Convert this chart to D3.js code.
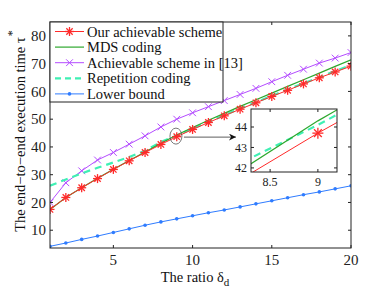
<!DOCTYPE html>
<html>
<head>
<style>
  body { margin: 0; background: white; }
  svg { font-family: "Liberation Serif", "Times New Roman", serif; }
</style>
<script src="https://cdn.jsdelivr.net/npm/d3@7"></script>
</head>
<body>
<svg id="chart" width="388" height="291"></svg>
<script>
// data
let ratio = d3.range(1, 21)
let ours = [17.5, 21.8, 25.3, 28.6, 31.9, 35.0, 38.0, 40.9, 43.7, 46.3, 48.8, 51.2, 53.6, 55.9, 58.2, 60.4, 62.7, 64.9, 67.0, 69.1]
let mds = [17.5, 21.8, 25.3, 28.7, 32.0, 35.1, 38.2, 41.3, 44.3, 47.0, 49.6, 52.1, 54.6, 57.0, 59.4, 61.8, 64.2, 66.6, 69.0, 71.4]
let ref13 = [20.0, 27.1, 31.4, 35.3, 38.0, 41.0, 44.0, 47.2, 50.0, 52.3, 54.5, 56.7, 58.9, 61.1, 63.5, 65.8, 68.0, 70.2, 72.0, 74.0]
let repetition = [26.0, 28.3, 30.5, 32.5, 34.4, 36.4, 38.6, 41.8, 44.1, 46.6, 49.0, 51.4, 53.8, 56.1, 58.4, 60.7, 62.9, 65.1, 67.3, 69.5]
let lower = [4.2, 5.4, 6.7, 7.9, 9.2, 10.5, 11.8, 13.0, 14.1, 15.2, 16.3, 17.3, 18.4, 19.5, 20.6, 21.7, 22.8, 23.8, 24.9, 26.0]
let xTicks = [5, 10, 15, 20]
let yTicks = [10, 20, 30, 40, 50, 60, 70, 80]
let insetXTicks = [8.5, 9]
let insetYTicks = [42, 43, 44]
let legendLabels = ["Our achievable scheme", "MDS coding", "Achievable scheme in [13]", "Repetition coding", "Lower bound"]

let series = [
  {name: legendLabels[0], values: ours, color: "#ff2a2a", marker: "star", dash: null, w: 1},
  {name: legendLabels[1], values: mds, color: "#2ea82e", marker: null, dash: null, w: 1.2},
  {name: legendLabels[2], values: ref13, color: "#b44cff", marker: "x", dash: null, w: 1},
  {name: legendLabels[3], values: repetition, color: "#3ff0b4", marker: null, dash: "7,5", w: 2.2},
  {name: legendLabels[4], values: lower, color: "#2f7cff", marker: "dot", dash: null, w: 1}
]
// drawing order: lower bound, ref13, repetition, mds, ours on top
let drawOrder = [4, 2, 3, 1, 0]

let svg = d3.select("#chart")
let mLeft = 50, mRight = 351, mTop = 22, mBottom = 248

let x = d3.scaleLinear().domain([1, 20]).range([mLeft, mRight])
let y = d3.scaleLinear().domain([3.6, 85]).range([mBottom, mTop])

function drawMarker(g, type, px, py, color, size) {
  if (type == "star") {
    let r = size
    for (let a of [0, 45, 90, 135]) {
      let t = a * Math.PI / 180
      g.append("line")
        .attr("x1", px - r * Math.cos(t)).attr("y1", py - r * Math.sin(t))
        .attr("x2", px + r * Math.cos(t)).attr("y2", py + r * Math.sin(t))
        .attr("stroke", color).attr("stroke-width", 1.3)
    }
  } else if (type == "x") {
    let r = size * 0.75
    g.append("path")
      .attr("d", `M${px - r},${py - r}L${px + r},${py + r}M${px - r},${py + r}L${px + r},${py - r}`)
      .attr("stroke", color).attr("stroke-width", 1)
  } else if (type == "dot") {
    g.append("circle").attr("cx", px).attr("cy", py).attr("r", 1.8).attr("fill", color)
  }
}

// axes box with inward ticks
function box(g, xs, ys, xt, yt, tl, fs, fmt) {
  let [x0, x1] = xs.range(), [y0, y1] = ys.range()
  g.append("rect").attr("x", x0).attr("y", y1).attr("width", x1 - x0).attr("height", y0 - y1)
    .attr("fill", "none").attr("stroke", "#222").attr("stroke-width", 1)
  for (let t of xt) {
    g.append("line").attr("x1", xs(t)).attr("x2", xs(t)).attr("y1", y0).attr("y2", y0 - tl).attr("stroke", "#222")
    g.append("line").attr("x1", xs(t)).attr("x2", xs(t)).attr("y1", y1).attr("y2", y1 + tl).attr("stroke", "#222")
    g.append("text").attr("x", xs(t)).attr("y", y0 + fs + 2).attr("text-anchor", "middle")
      .attr("font-size", fs).attr("fill", "#222").text(fmt(t))
  }
  for (let t of yt) {
    g.append("line").attr("x1", x0).attr("x2", x0 + tl).attr("y1", ys(t)).attr("y2", ys(t)).attr("stroke", "#222")
    g.append("line").attr("x1", x1).attr("x2", x1 - tl).attr("y1", ys(t)).attr("y2", ys(t)).attr("stroke", "#222")
    g.append("text").attr("x", x0 - 4).attr("y", ys(t) + fs * 0.35).attr("text-anchor", "end")
      .attr("font-size", fs).attr("fill", "#222").text(fmt(t))
  }
}

let main = svg.append("g")
svg.append("defs").append("clipPath").attr("id", "clipMain")
  .append("rect").attr("x", mLeft).attr("y", mTop).attr("width", mRight - mLeft).attr("height", mBottom - mTop)

let plotG = main.append("g").attr("clip-path", "url(#clipMain)")
for (let i of drawOrder) {
  let s = series[i]
  let line = d3.line().x((d, k) => x(ratio[k])).y(d => y(d))
  plotG.append("path").attr("d", line(s.values)).attr("fill", "none")
    .attr("stroke", s.color).attr("stroke-width", s.w)
    .attr("stroke-dasharray", s.dash)
  if (s.marker) {
    s.values.forEach((v, k) => drawMarker(plotG, s.marker, x(ratio[k]), y(v), s.color, 4.5))
  }
}

box(main, x, y, xTicks, yTicks, 3, 15, d => d)

// ellipse around the zoomed spot and arrow
let ex = 8.95, ey = 43.9
main.append("ellipse").attr("cx", x(ex)).attr("cy", y(ey)).attr("rx", 6).attr("ry", 8)
  .attr("fill", "none").attr("stroke", "#555").attr("stroke-width", 0.8)
svg.append("defs").append("marker").attr("id", "arrowHead")
  .attr("viewBox", "0 0 10 10").attr("refX", 10).attr("refY", 5)
  .attr("markerWidth", 9).attr("markerHeight", 7).attr("markerUnits", "userSpaceOnUse")
  .attr("orient", "auto")
  .append("path").attr("d", "M0,0L10,5L0,10L3,5Z").attr("fill", "#111")
main.append("line").attr("x1", x(ex) + 8).attr("x2", 236).attr("y1", y(ey) + 1).attr("y2", y(ey) + 1)
  .attr("stroke", "#333").attr("stroke-width", 0.8).attr("marker-end", "url(#arrowHead)")

// legend
let lg = main.append("g")
lg.append("rect").attr("x", mLeft).attr("y", mTop).attr("width", 173).attr("height", 80)
  .attr("fill", "white").attr("stroke", "#222").attr("stroke-width", 1)
series.forEach((s, i) => {
  let ly = mTop + 9.5 + i * 15.6
  lg.append("line").attr("x1", 55).attr("x2", 84).attr("y1", ly).attr("y2", ly)
    .attr("stroke", s.color).attr("stroke-width", s.w).attr("stroke-dasharray", s.dash ? "6,4" : null)
  if (s.marker) drawMarker(lg, s.marker, 69.5, ly, s.color, 4.5)
  lg.append("text").attr("x", 87).attr("y", ly + 5).attr("font-size", 14.5).attr("fill", "#111").text(s.name)
})

// inset
let ix = d3.scaleLinear().domain([8.3, 9.2]).range([251, 337])
let iy = d3.scaleLinear().domain([41.8, 44.88]).range([172, 109])
let inset = svg.append("g")
inset.append("rect").attr("x", 251).attr("y", 109).attr("width", 86).attr("height", 63).attr("fill", "white")
svg.append("defs").append("clipPath").attr("id", "clipInset")
  .append("rect").attr("x", 251).attr("y", 109).attr("width", 86).attr("height", 63)
let insetPlot = inset.append("g").attr("clip-path", "url(#clipInset)")
for (let i of [3, 1, 0]) {
  let s = series[i]
  let line = d3.line().x((d, k) => ix(ratio[k])).y(d => iy(d))
  insetPlot.append("path").attr("d", line(s.values)).attr("fill", "none")
    .attr("stroke", s.color).attr("stroke-width", s.w).attr("stroke-dasharray", s.dash)
  if (s.marker == "star") {
    s.values.forEach((v, k) => drawMarker(insetPlot, "star", ix(ratio[k]), iy(v), s.color, 5.5))
  }
}
box(inset, ix, iy, insetXTicks, insetYTicks, 3, 12, d => d)

// axis titles
svg.append("text").attr("x", 195).attr("y", 282).attr("text-anchor", "middle")
  .attr("font-size", 14.5).attr("fill", "#111")
  .text("The ratio δ")
  .append("tspan").attr("font-size", 11).attr("dy", 4).text("d")

let yl = svg.append("text").attr("transform", "translate(25,131) rotate(-90)")
  .attr("text-anchor", "middle").attr("font-size", 14.5).attr("fill", "#111")
yl.append("tspan").text("The end−to−end execution time τ")
yl.append("tspan").attr("font-size", 12).attr("dy", -9).attr("dx", 1).text("*")
</script>
</body>
</html>
